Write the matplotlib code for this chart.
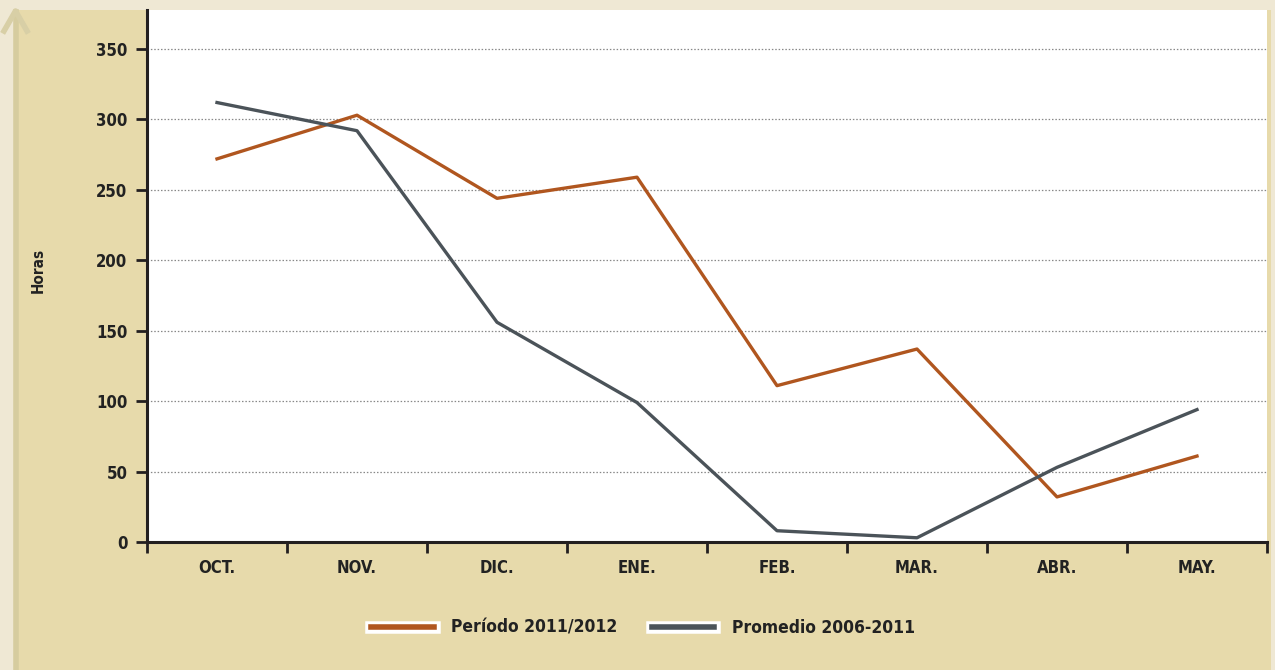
import matplotlib.pyplot as plt
import matplotlib.patheffects as pe
from matplotlib.patches import Rectangle
from matplotlib.lines import Line2D
import numpy as np

plt.rcParams['font.family'] = ['DejaVu Sans']
plt.rcParams['font.stretch'] = 'condensed'

months = ['OCT.', 'NOV.', 'DIC.', 'ENE.', 'FEB.', 'MAR.', 'ABR.', 'MAY.']
periodo = [272, 303, 244, 259, 111, 137, 32, 61]
promedio = [312, 292, 156, 99, 8, 3, 53, 94]
labels = ['Período 2011/2012', 'Promedio 2006-2011']
yticks = [0, 50, 100, 150, 200, 250, 300, 350]

orange = '#b0561f'
gray = '#4b5359'
panel = '#e7daab'

W, H = 1275, 670
fig = plt.figure(figsize=(12.75, 6.7), dpi=100, facecolor='#efe8d4')

# tan panel and decorative arrow
fig.patches.append(Rectangle((18 / W, 0), (1271 - 18) / W, 1 - 10 / H,
                             transform=fig.transFigure, facecolor=panel,
                             edgecolor='none', zorder=-10))
fig.lines.append(Line2D([15.5 / W, 15.5 / W], [0, 1 - 12 / H], transform=fig.transFigure,
                        color='#d6cc9f', lw=4, zorder=-9))
fig.lines.append(Line2D([4 / W, 15.5 / W, 27 / W], [1 - 31 / H, 1 - 11 / H, 1 - 31 / H],
                        transform=fig.transFigure, color='#d8cfa6', lw=4, zorder=-9))

ax = fig.add_axes([147 / W, 1 - 542 / H, (1267 - 147) / W, (542 - 10) / H])
ax.set_facecolor('white')
x = np.arange(len(months))
ax.plot(x, periodo, color=orange, lw=2.4, label=labels[0], zorder=3)
ax.plot(x, promedio, color=gray, lw=2.4, label=labels[1], zorder=3)

ax.set_xlim(-0.5, len(months) - 0.5)
ax.set_ylim(0, 377.7)
ax.set_yticks(yticks)
ax.set_yticklabels([str(v) for v in yticks], fontsize=12, fontweight='bold', color='#222222')
ax.set_xticks(x)
ax.set_xticklabels(months, fontsize=12, fontweight='bold', color='#222222')
ax.tick_params(axis='x', length=0, pad=12)
ax.set_xticks(np.arange(-0.5, len(months)), minor=True)
ax.tick_params(axis='x', which='minor', length=8, width=2, color='#231f20')
ax.tick_params(axis='y', length=8, width=2, color='#231f20', pad=6)
for v in yticks[1:]:
    ax.axhline(v, color='#888888', lw=0.9, ls=(0, (1.2, 1.5)), zorder=1)

for s in ['top', 'right']:
    ax.spines[s].set_visible(False)
for s in ['left', 'bottom']:
    ax.spines[s].set_linewidth(2.2)
    ax.spines[s].set_color('#231f20')
ax.spines['bottom'].set_zorder(4)

fig.text(38 / W, 1 - 270 / H, 'Horas', rotation=90, ha='center', va='center',
         fontsize=11, fontweight='bold', color='#222222')

leg = fig.legend(loc='center', bbox_to_anchor=(643 / W, 1 - 628 / H), ncol=2, frameon=False,
                 prop={'weight': 'bold', 'size': 12.5}, handlelength=3.6, columnspacing=2.0,
                 handletextpad=1.0)
for h in leg.get_lines():
    h.set_linewidth(4)
    h.set_path_effects([pe.Stroke(linewidth=9, foreground='white'), pe.Normal()])
for t in leg.get_texts():
    t.set_color('#222222')

fig.savefig('out.png', dpi=100, facecolor=fig.get_facecolor())
